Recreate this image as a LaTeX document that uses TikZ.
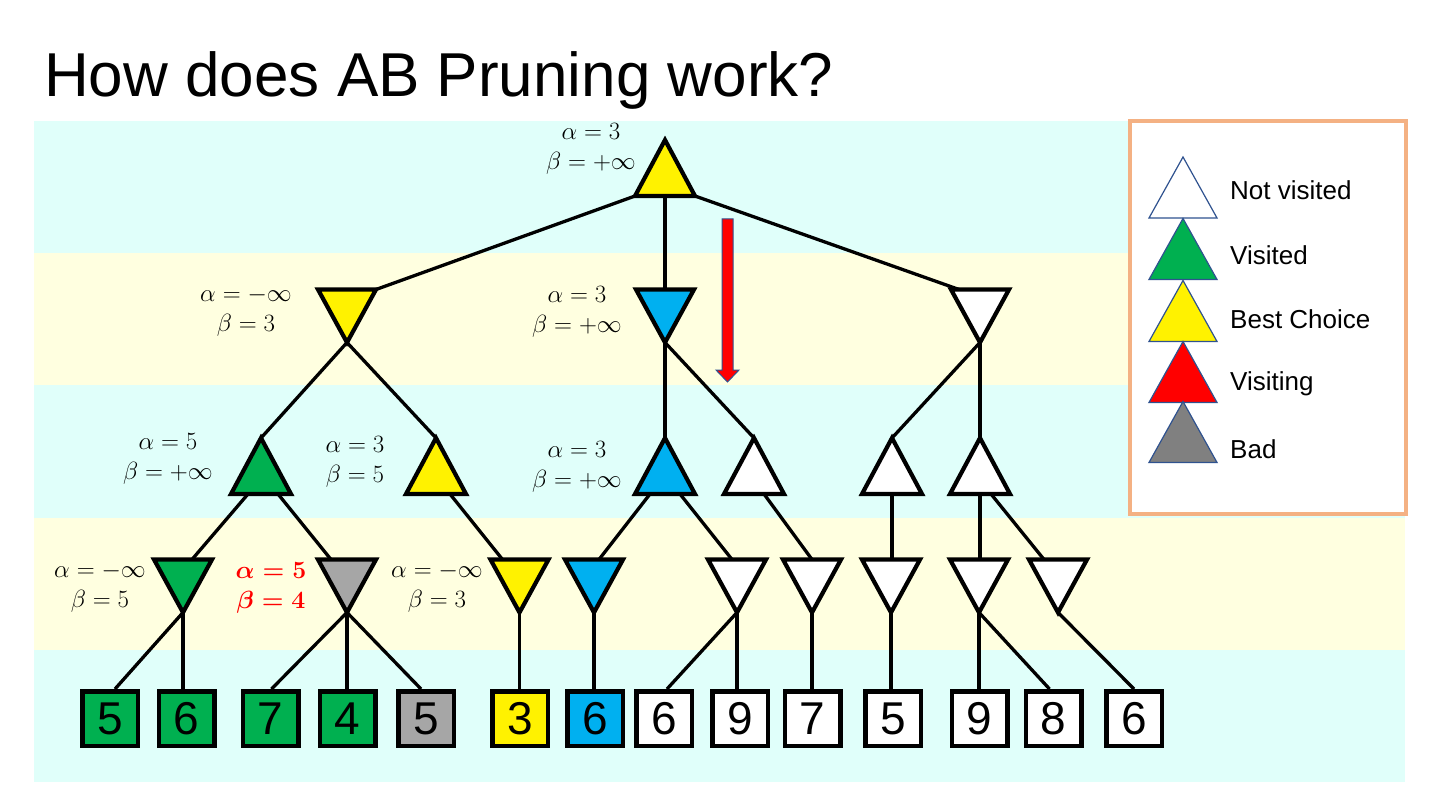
\documentclass[tikz,border=0pt]{standalone}
\usepackage{amsmath}
\usepackage{fontspec}
\newfontfamily\sansf{Liberation Sans}
\usetikzlibrary{calc}
\definecolor{bcyan}{RGB}{224,255,250}
\definecolor{byellow}{RGB}{255,255,224}
\definecolor{pgreen}{RGB}{0,176,80}
\definecolor{pblue}{RGB}{0,176,240}
\definecolor{pgray}{RGB}{166,166,166}
\definecolor{lgray}{RGB}{128,128,128}
\definecolor{ledge}{RGB}{47,82,143}
\definecolor{lorange}{RGB}{244,177,131}
\tikzset{
  upbox/.style={minimum width=60pt,minimum height=56pt,inner sep=0pt,outer sep=0pt},
  dnbox/.style={minimum width=58pt,minimum height=53pt,inner sep=0pt,outer sep=0pt},
  legtbox/.style={minimum width=68pt,minimum height=61pt,inner sep=0pt,outer sep=0pt},
  trib/.style={draw=black,line width=4.2pt},
  legtri/.style={draw=ledge,line width=1.2pt},
  edge/.style={draw=black,line width=3.3pt},
  leaf/.style={draw=black,line width=4.5pt,minimum width=55.5pt,minimum height=54.5pt,inner sep=0pt,font=\sansf\fontsize{46}{46}\selectfont},
  lab/.style={align=center,inner sep=0pt,font=\fontsize{24}{30}\selectfont},
  boldlab/.style={align=center,inner sep=0pt,text=red,font=\fontsize{24}{30}\selectfont\boldmath},
  legtxt/.style={anchor=west,inner sep=0pt,font=\sansf\fontsize{26}{30}\selectfont},
}
\newcommand{\uptri}[3][trib]{\filldraw[#1,fill=#3] (#2.north) -- (#2.south east) -- (#2.south west) -- cycle;}
\newcommand{\dntri}[3][trib]{\filldraw[#1,fill=#3] (#2.south) -- (#2.north east) -- (#2.north west) -- cycle;}
\begin{document}
\begin{tikzpicture}[x=1pt,y=-1pt]
\useasboundingbox (0,0) rectangle (1440,810);
% bands
\fill[bcyan] (34,121) rectangle (1405,253);
\fill[byellow] (34,253) rectangle (1405,385);
\fill[bcyan] (34,385) rectangle (1405,518);
\fill[byellow] (34,518) rectangle (1405,650);
\fill[bcyan] (34,650) rectangle (1405,782);
% title
\node[anchor=base west,inner sep=0pt,font=\sansf\fontsize{62}{70}\selectfont] (title) at (44,97) {How does AB Pruning work?};
% legend
\node[draw=lorange,fill=white,line width=4pt,minimum width=276pt,minimum height=393pt,inner sep=0pt] (legend) at (1268,317.5) {};
\node[legtbox] (lg1) at (1183,187.5) {};
\node[legtbox] (lg2) at (1183,249) {};
\node[legtbox] (lg3) at (1183,311) {};
\node[legtbox] (lg4) at (1183,372) {};
\node[legtbox] (lg5) at (1183,432) {};
\uptri[legtri]{lg1}{white}
\uptri[legtri]{lg2}{pgreen}
\uptri[legtri]{lg3}{yellow}
\uptri[legtri]{lg4}{red}
\uptri[legtri]{lg5}{lgray}
\node[legtxt] (lt1) at (1230,190) {Not visited};
\node[legtxt] (lt2) at (1230,255) {Visited};
\node[legtxt] (lt3) at (1230,319) {Best Choice};
\node[legtxt] (lt4) at (1230,384) {Visiting};
\node[legtxt] (lt5) at (1230,449) {Bad};
% tree node boxes
\node[upbox] (root) at (665,168) {};
\node[dnbox] (a) at (347,316) {};
\node[dnbox] (b) at (665,316) {};
\node[dnbox] (c) at (980,316) {};
\node[upbox] (d) at (261,466) {};
\node[upbox] (e) at (436,466) {};
\node[upbox] (f) at (665,466) {};
\node[upbox] (l) at (754,466) {};
\node[upbox] (n) at (892,466) {};
\node[upbox] (p) at (980,466) {};
\node[dnbox] (g) at (183,586) {};
\node[dnbox] (h) at (347,586) {};
\node[dnbox] (i) at (519.5,586) {};
\node[dnbox] (j) at (594,586) {};
\node[dnbox] (k) at (737,586) {};
\node[dnbox] (m) at (812,586) {};
\node[dnbox] (o) at (891,586) {};
\node[dnbox] (q) at (979,586) {};
\node[dnbox] (r) at (1058,586) {};
% leaves
\node[leaf,fill=pgreen] (L1) at (110,718.5) {5};
\node[leaf,fill=pgreen] (L2) at (186.5,718.5) {6};
\node[leaf,fill=pgreen] (L3) at (270.5,718.5) {7};
\node[leaf,fill=pgreen] (L4) at (347.5,718.5) {4};
\node[leaf,fill=pgray] (L5) at (426,718.5) {5};
\node[leaf,fill=yellow] (L6) at (520,718.5) {3};
\node[leaf,fill=pblue] (L7) at (595,718.5) {6};
\node[leaf,fill=white] (L8) at (664,718.5) {6};
\node[leaf,fill=white] (L9) at (740,718.5) {9};
\node[leaf,fill=white] (L10) at (812.5,718.5) {7};
\node[leaf,fill=white] (L11) at (893,718.5) {5};
\node[leaf,fill=white] (L12) at (979.5,718.5) {9};
\node[leaf,fill=white] (L13) at (1053.5,718.5) {8};
\node[leaf,fill=white] (L14) at (1134,718.5) {6};
% edges
\draw[edge] (root.south west) -- (a.north east);
\draw[edge] (root.south) -- (b.north);
\draw[edge] (root.south east) -- ($(c.north west)+(8,0)$);
\draw[edge] (a.south) -- (d.north);
\draw[edge] (a.south) -- (e.north);
\draw[edge] (b.south) -- (f.north);
\draw[edge] (b.south) -- (l.north);
\draw[edge] (c.south) -- (n.north);
\draw[edge] (c.south) -- (p.north);
\draw[edge] ($(d.south)+(-13,0)$) -- ($(g.north)+(9,0)$);
\draw[edge] ($(d.south)+(17,0)$) -- ($(h.north)+(-16,0)$);
\draw[edge] ($(e.south)+(14,0)$) -- ($(i.north)+(-17,0)$);
\draw[edge] ($(f.south)+(-15,0)$) -- ($(j.north)+(5,0)$);
\draw[edge] ($(f.south)+(15,0)$) -- ($(k.north)+(-5,0)$);
\draw[edge] ($(l.south)+(10,0)$) -- (m.north);
\draw[edge] (n.south) -- (n.south |- o.north);
\draw[edge] (p.south) -- (p.south |- q.north);
\draw[edge] ($(p.south)+(11,0)$) -- ($(r.north)+(-14,0)$);
\draw[edge] (g.south) -- ($(L1.north)+(5,0)$);
\draw[edge] (g.south) -- (g.south |- L2.north);
\draw[edge] (h.south) -- ($(L3.north)+(1,0)$);
\draw[edge] (h.south) -- (h.south |- L4.north);
\draw[edge] (h.south) -- ($(L5.north)+(-5,0)$);
\draw[edge] (i.south) -- (i.south |- L6.north);
\draw[edge] (j.south) -- (j.south |- L7.north);
\draw[edge] (k.south) -- ($(L8.north)+(3,0)$);
\draw[edge] (k.south) -- (k.south |- L9.north);
\draw[edge] (m.south) -- (m.south |- L10.north);
\draw[edge] (o.south) -- (o.south |- L11.north);
\draw[edge] (q.south) -- (q.south |- L12.north);
\draw[edge] (q.south) -- ($(L13.north)+(-4,0)$);
\draw[edge] (r.south) -- (L14.north);
% triangles
\uptri{root}{yellow}
\dntri{a}{yellow}
\dntri{b}{pblue}
\dntri{c}{white}
\uptri{d}{pgreen}
\uptri{e}{yellow}
\uptri{f}{pblue}
\uptri{l}{white}
\uptri{n}{white}
\uptri{p}{white}
\dntri{g}{pgreen}
\dntri{h}{pgray}
\dntri{i}{yellow}
\dntri{j}{pblue}
\dntri{k}{white}
\dntri{m}{white}
\dntri{o}{white}
\dntri{q}{white}
\dntri{r}{white}
% labels
\node[lab] (lroot) at (591,149) {$\alpha=3$\\$\beta=+\infty$};
\node[lab] (la) at (246,312) {$\alpha=-\infty$\\$\beta=3$};
\node[lab] (lb) at (577,312) {$\alpha=3$\\$\beta=+\infty$};
\node[lab] (ld) at (168,459) {$\alpha=5$\\$\beta=+\infty$};
\node[lab] (le) at (355,462) {$\alpha=3$\\$\beta=5$};
\node[lab] (lf) at (577,467) {$\alpha=3$\\$\beta=+\infty$};
\node[lab] (lg) at (100,588) {$\alpha=-\infty$\\$\beta=5$};
\node[boldlab] (lh) at (271,588) {$\alpha=5$\\$\beta=4$};
\node[lab] (li) at (437,588) {$\alpha=-\infty$\\$\beta=3$};
% red arrow
\filldraw[fill=red,draw=ledge,line width=1pt] (722,219) -- (733,219) -- (733,370) -- (739,370) -- (727.5,382) -- (716,370) -- (722,370) -- cycle;
\end{tikzpicture}
\end{document}
